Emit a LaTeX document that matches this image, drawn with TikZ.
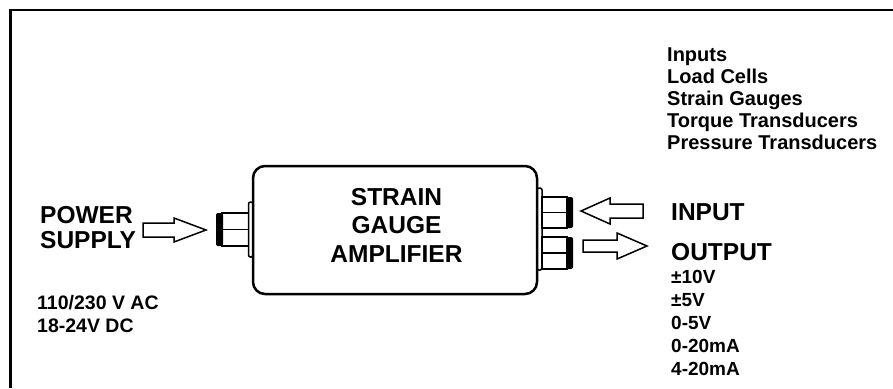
\documentclass[tikz,border=0pt]{standalone}
\usepackage{fontspec}
\setmainfont{Liberation Sans}
\usepackage{tikz}
\usetikzlibrary{positioning}

\tikzset{
    bigtxt/.style={font=\fontsize{24.5}{25}\selectfont\bfseries, inner sep=0pt, align=left},
    smalltxt/.style={font=\fontsize{19.5}{23}\selectfont\bfseries, inner sep=0pt, align=left},
    listtxt/.style={font=\fontsize{20}{22}\selectfont\bfseries, inner sep=0pt, align=left},
    ampbox/.style={draw, line width=2.5pt, rounded corners=12pt, minimum width=284pt, minimum height=128pt},
    blockarrow/.style={draw, line width=1.5pt, fill=white, line join=miter},
    plug/.style={draw, line width=1.5pt},
}

\begin{document}
\begin{tikzpicture}[x=1pt, y=-1pt]
    \useasboundingbox (0, 0) rectangle (893, 388);

    % Frame (open to the right and bottom)
    \draw[line width=2.5pt] (10.5, 388) -- (10.5, 10) -- (893, 10);

    % Amplifier housing
    \node[ampbox] (amp) at (395, 230) {};
    \node[bigtxt, align=center, font=\fontsize{24.5}{28.5}\selectfont\bfseries] (ampname) at (396.5, 225) {STRAIN\\GAUGE\\AMPLIFIER};

    % Power connector (left)
    \draw[plug, rounded corners=2pt] (248.5, 202) rectangle (253, 257);
    \draw[plug] (222, 213) rectangle (248.5, 246);
    \draw[plug] (222, 229.5) -- (248.5, 229.5);
    \fill[rounded corners=2pt] (216, 213) rectangle (223, 246);

    % Signal connectors (right)
    \draw[plug, rounded corners=2pt] (537, 188) rectangle (542, 270);
    \foreach \yt/\yb in {197/228, 237/269} {
        \draw[plug] (542, \yt) rectangle (567, \yb);
        \draw[plug] (542, {(\yt+\yb)/2}) -- (567, {(\yt+\yb)/2});
        \fill[rounded corners=2pt] (566, \yt) rectangle (573, \yb);
    }

    % Block arrows
    \draw[blockarrow] (143, 223) -- (174, 223) -- (174, 218) -- (206, 230) -- (174, 242) -- (174, 237) -- (143, 237) -- cycle;
    \draw[blockarrow] (643, 204) -- (610, 204) -- (610, 198) -- (581, 211) -- (610, 224) -- (610, 218) -- (643, 218) -- cycle;
    \draw[blockarrow] (583, 240) -- (617, 240) -- (617, 233) -- (647, 246) -- (617, 259) -- (617, 252) -- (583, 252) -- cycle;

    % Power supply labels
    \node[bigtxt, anchor=north west] (power) at (40, 206) {POWER\\SUPPLY};
    \node[smalltxt, anchor=north west] (mains) at (37, 295) {110/230 V AC\\18-24V DC};

    % Signal labels
    \node[bigtxt, anchor=base west] (input) at (671, 220) {INPUT};
    \node[bigtxt, anchor=base west] (output) at (671, 260) {OUTPUT};
    \node[smalltxt, anchor=north west, font=\fontsize{19}{23}\selectfont\bfseries] (ranges) at (671, 270) {±10V\\±5V\\0-5V\\0-20mA\\4-20mA};
    \node[listtxt, anchor=north west] (sensors) at (667, 48) {Inputs\\Load Cells\\Strain Gauges\\Torque Transducers\\Pressure Transducers};
\end{tikzpicture}
\end{document}
